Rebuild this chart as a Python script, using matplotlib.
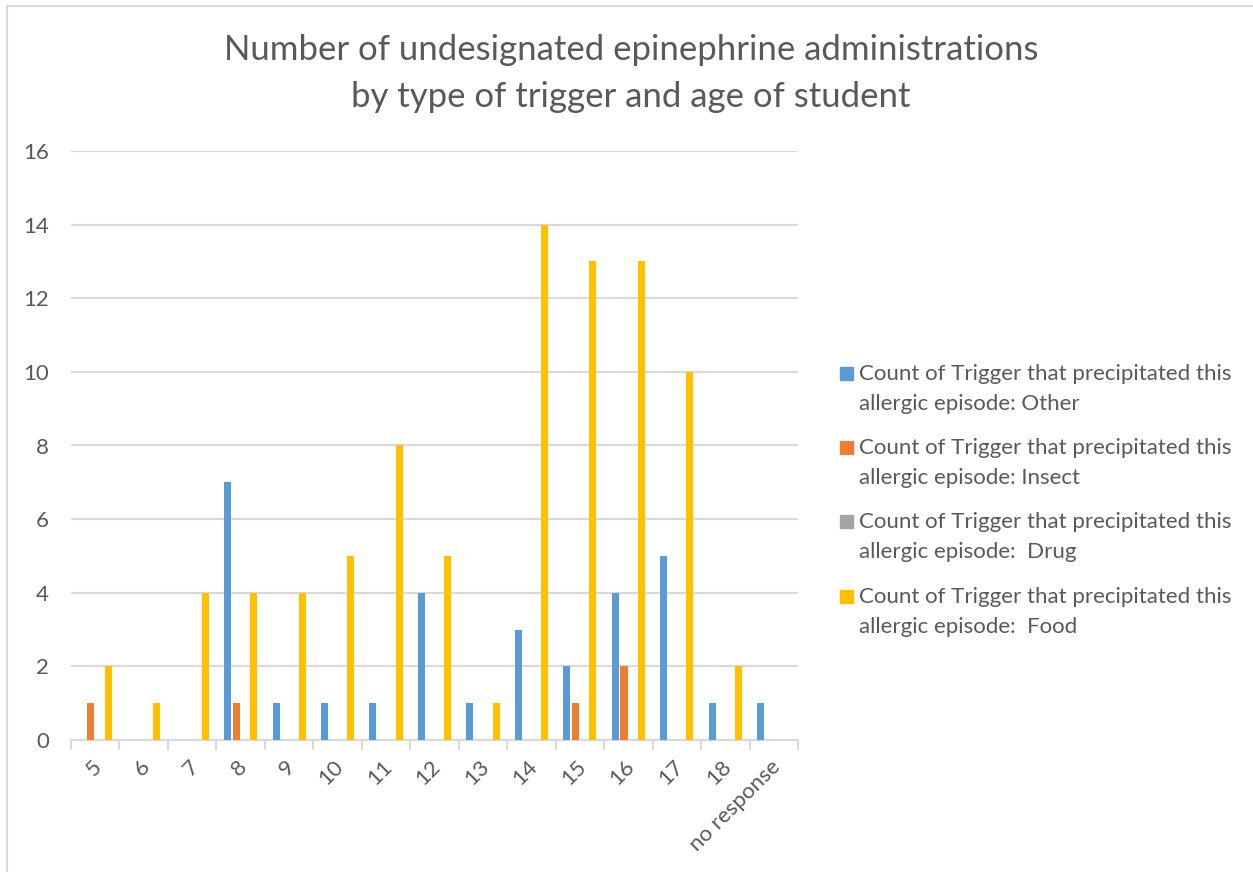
import matplotlib.pyplot as plt
import numpy as np
import matplotlib.transforms as mtrans
from matplotlib.patches import Rectangle

ages = ["5", "6", "7", "8", "9", "10", "11", "12", "13", "14", "15", "16", "17", "18", "no response"]
other = [0, 0, 0, 7, 1, 1, 1, 4, 1, 3, 2, 4, 5, 1, 1]
insect = [1, 0, 0, 1, 0, 0, 0, 0, 0, 0, 1, 2, 0, 0, 0]
drug = [0, 0, 0, 0, 0, 0, 0, 0, 0, 0, 0, 0, 0, 0, 0]
food = [2, 1, 4, 4, 4, 5, 8, 5, 1, 14, 13, 13, 10, 2, 0]
series_names = [
    "Count of Trigger that precipitated this\nallergic episode: Other",
    "Count of Trigger that precipitated this\nallergic episode: Insect",
    "Count of Trigger that precipitated this\nallergic episode:  Drug",
    "Count of Trigger that precipitated this\nallergic episode:  Food",
]
colors = ["#5B9BD5", "#ED7D31", "#A5A5A5", "#FFC000"]

plt.rcParams['font.family'] = ['Lato', 'DejaVu Sans']
text_col = "#595959"
grid_col = "#D9D9D9"

fig = plt.figure(figsize=(12.53, 8.72), dpi=100)
ax = fig.add_axes([71/1253, 1 - 740/872, (798 - 71)/1253, (740 - 151)/872])

x = np.arange(len(ages))
step = 0.18
width = 0.145
for i, vals in enumerate([other, insect, drug, food]):
    ax.bar(x + (i - 1.5) * step, vals, width=width, color=colors[i], zorder=3)

ax.set_xlim(-0.5, len(ages) - 0.5)
ax.set_ylim(0, 16)
ax.set_yticks(range(0, 17, 2))
ax.yaxis.grid(True, color=grid_col, linewidth=1.5, zorder=0)
for s in ["top", "right", "left"]:
    ax.spines[s].set_visible(False)
ax.spines["bottom"].set_color(grid_col)
ax.spines["bottom"].set_linewidth(1.5)
ax.tick_params(axis="y", length=0, pad=16, labelsize=16, labelcolor=text_col)

ax.set_xticks(x)
ax.set_xticks(np.arange(-0.5, len(ages), 1), minor=True)
ax.tick_params(axis="x", which="major", length=0, pad=12, labelsize=16, labelcolor=text_col)
ax.tick_params(axis="x", which="minor", length=7, width=1.5, color=grid_col)
ax.set_xticklabels(ages, rotation=45, ha="right", va="top", rotation_mode="anchor")
shift = mtrans.ScaledTranslation(-4/100, 0, fig.dpi_scale_trans)
for lab in ax.get_xticklabels():
    lab.set_transform(lab.get_transform() + shift)

fig.text(631/1253, 1 - 50/872, "Number of undesignated epinephrine administrations",
         ha="center", va="center", fontsize=25, color=text_col)
fig.text(631/1253, 1 - 97/872, "by type of trigger and age of student",
         ha="center", va="center", fontsize=25, color=text_col)

# legend
leg_y = [373, 447, 521, 596]
for name, c, y in zip(series_names, colors, leg_y):
    fig.patches.append(Rectangle((840/1253, 1 - (y + 7)/872), 13/1253, 13/872,
                                 transform=fig.transFigure, color=c))
    fig.text(859/1253, 1 - (y - 9)/872, name, ha="left", va="top",
             fontsize=16, color=text_col, linespacing=1.6)

# frame border
fig.patches.append(Rectangle((7/1253, -0.1), 1.2, 1 - 6/872 + 0.1, transform=fig.transFigure,
                             fill=False, edgecolor=grid_col, linewidth=1.5))

fig.savefig("out.png", dpi=100)
